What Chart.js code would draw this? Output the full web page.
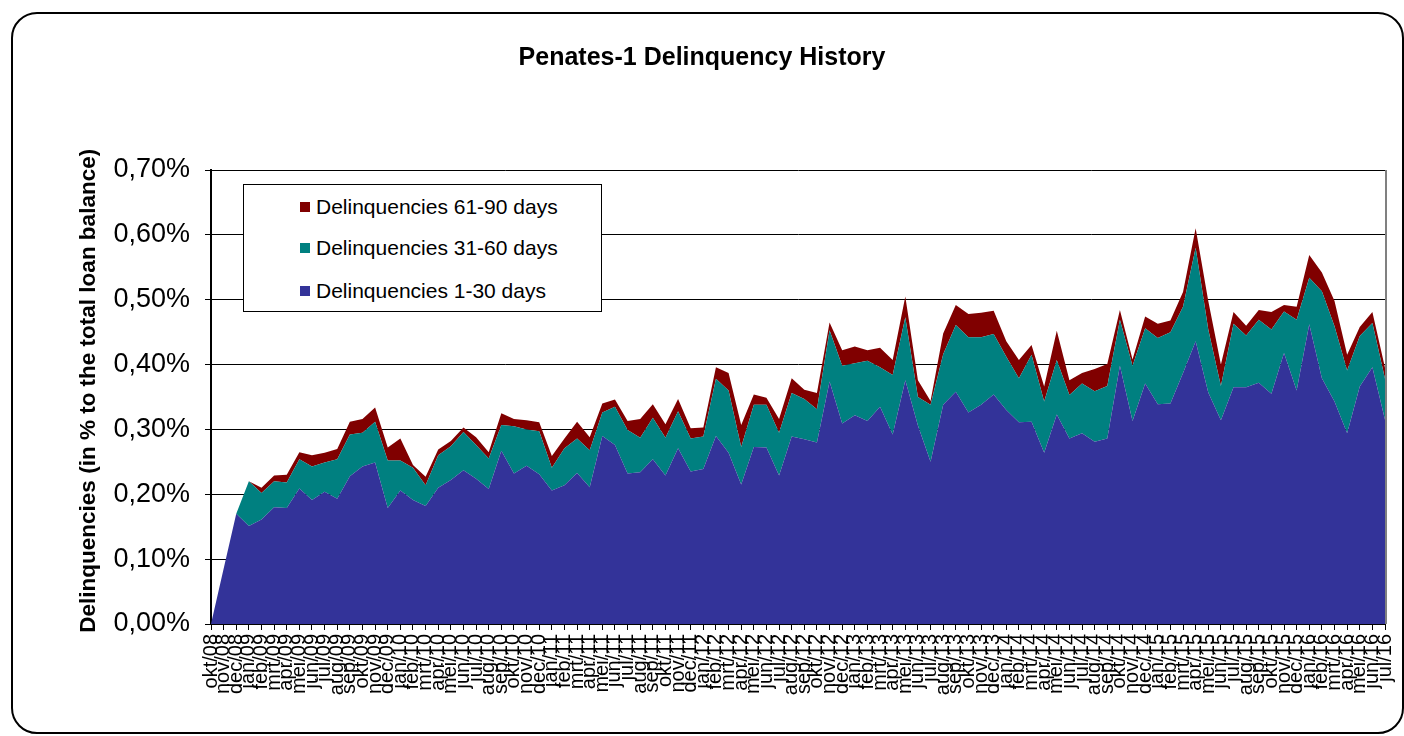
<!DOCTYPE html>
<html><head><meta charset="utf-8">
<script src="https://cdn.jsdelivr.net/npm/chart.js@4.4.0/dist/chart.umd.min.js"></script>
<style>
html,body{margin:0;padding:0;background:#fff;}
#wrap{position:relative;width:1404px;height:736px;overflow:hidden;background:#fff;}
#frame{position:absolute;left:11px;top:12px;width:1389px;height:718px;border:2px solid #000;border-radius:26px;pointer-events:none;}
canvas{position:absolute;left:0;top:0;}
#legend{position:absolute;left:243px;top:184px;width:357px;height:126px;border:1px solid #000;background:#fff;font-family:"Liberation Sans",Arial,sans-serif;font-size:21px;color:#000;}
.item{position:absolute;left:56px;height:24px;display:flex;align-items:center;white-space:nowrap;}
.sw{width:10px;height:10px;margin-right:6px;flex:none;}
</style></head>
<body>
<div id="wrap">
<canvas id="c" width="1404" height="736"></canvas>
<div id="legend"></div>
<div id="frame"></div>
</div>
<script>
const months = ["okt/08","nov/08","dec/08",
"jan/09","feb/09","mrt/09","apr/09","mei/09","jun/09","jul/09","aug/09","sep/09","okt/09","nov/09","dec/09",
"jan/10","feb/10","mrt/10","apr/10","mei/10","jun/10","jul/10","aug/10","sep/10","okt/10","nov/10","dec/10",
"jan/11","feb/11","mrt/11","apr/11","mei/11","jun/11","jul/11","aug/11","sep/11","okt/11","nov/11","dec/11",
"jan/12","feb/12","mrt/12","apr/12","mei/12","jun/12","jul/12","aug/12","sep/12","okt/12","nov/12","dec/12",
"jan/13","feb/13","mrt/13","apr/13","mei/13","jun/13","jul/13","aug/13","sep/13","okt/13","nov/13","dec/13",
"jan/14","feb/14","mrt/14","apr/14","mei/14","jun/14","jul/14","aug/14","sep/14","okt/14","nov/14","dec/14",
"jan/15","feb/15","mrt/15","apr/15","mei/15","jun/15","jul/15","aug/15","sep/15","okt/15","nov/15","dec/15",
"jan/16","feb/16","mrt/16","apr/16","mei/16","jun/16","jul/16"];

// values in % of total loan balance
const d1_30 = [0,0.085,0.170,0.151,0.161,0.180,0.179,0.209,0.191,0.204,
0.193,0.228,0.243,0.249,0.179,0.206,0.191,0.182,0.210,0.222,
0.237,0.224,0.208,0.267,0.232,0.244,0.231,0.206,0.214,0.233,
0.211,0.290,0.276,0.232,0.234,0.254,0.229,0.271,0.235,0.239,
0.290,0.264,0.215,0.273,0.272,0.229,0.289,0.285,0.280,0.374,
0.309,0.322,0.313,0.335,0.292,0.376,0.306,0.250,0.338,0.358,
0.326,0.338,0.354,0.330,0.311,0.312,0.264,0.323,0.286,0.294,
0.281,0.286,0.398,0.313,0.371,0.339,0.340,0.387,0.436,0.357,
0.314,0.365,0.365,0.372,0.355,0.418,0.360,0.462,0.379,0.343,
0.294,0.366,0.396,0.315];

const d31_60 = [0,0,0,0.069,0.041,0.040,0.039,0.045,0.052,0.045,
0.061,0.064,0.052,0.063,0.073,0.046,0.050,0.032,0.050,0.052,
0.059,0.052,0.047,0.040,0.073,0.056,0.066,0.035,0.057,0.053,
0.057,0.036,0.059,0.067,0.053,0.064,0.058,0.057,0.051,0.050,
0.088,0.096,0.058,0.065,0.066,0.066,0.067,0.062,0.051,0.079,
0.089,0.080,0.093,0.061,0.092,0.097,0.044,0.088,0.078,0.103,
0.116,0.104,0.093,0.082,0.068,0.103,0.079,0.084,0.067,0.077,
0.078,0.081,0.071,0.085,0.085,0.102,0.110,0.102,0.144,0.097,
0.053,0.098,0.080,0.097,0.099,0.064,0.109,0.072,0.134,0.116,
0.097,0.078,0.068,0.063];

const d61_90 = [0,0,0,0,0.008,0.009,0.012,0.011,0.017,0.015,
0.016,0.020,0.021,0.022,0.020,0.034,0.004,0.013,0.009,0.008,
0.007,0.012,0.010,0.018,0.011,0.014,0.014,0.018,0.015,0.026,
0.020,0.014,0.011,0.014,0.029,0.021,0.021,0.019,0.016,0.014,
0.018,0.027,0.034,0.016,0.011,0.021,0.023,0.014,0.025,0.012,
0.024,0.026,0.016,0.030,0.023,0.032,0.026,0.006,0.032,0.031,
0.036,0.038,0.036,0.024,0.028,0.015,0.023,0.045,0.023,0.016,
0.034,0.034,0.015,0.010,0.018,0.022,0.018,0.023,0.030,0.044,
0.033,0.018,0.015,0.015,0.027,0.010,0.020,0.035,0.029,0.039,
0.024,0.014,0.017,0.017];

const seriesNames = ["Delinquencies 1-30 days","Delinquencies 31-60 days","Delinquencies 61-90 days"];
const seriesColors = ["#333399","#008080","#800000"];
const yTicks = [0,0.1,0.2,0.3,0.4,0.5,0.6,0.7];

const FONT = '"Liberation Sans", Arial, sans-serif';

const plotBorder = {
  id:'plotBorder',
  afterDatasetsDraw(chart){
    const {ctx, chartArea:a} = chart;
    ctx.save();
    ctx.strokeStyle = '#808080';
    ctx.lineWidth = 2;
    ctx.beginPath();
    ctx.moveTo(a.right+1, a.top);
    ctx.lineTo(a.right+1, a.bottom);
    ctx.stroke();
    ctx.restore();
  }
};

const seriesData = [d1_30, d31_60, d61_90];
const datasets = seriesData.map((d,i)=>({
  label: seriesNames[i],
  data: d,
  backgroundColor: seriesColors[i],
  borderColor: seriesColors[i],
  borderWidth: 0,
  pointRadius: 0,
  tension: 0,
  fill: i===0 ? 'origin' : '-1'
}));

new Chart(document.getElementById('c'), {
  type:'line',
  data:{labels:months, datasets},
  options:{
    responsive:false,
    animation:false,
    layout:{padding:{left:0,right:0,top:0,bottom:0}},
    plugins:{
      legend:{display:false},
      tooltip:{enabled:false},
      title:{display:true,text:'Penates-1 Delinquency History',color:'#000',
        font:{family:FONT,size:25,weight:'bold'},padding:{top:43,bottom:97}}
    },
    scales:{
      x:{
        offset:false,
        afterFit(s){s.height=112; s.paddingRight=19; s.paddingLeft=0;},
        ticks:{autoSkip:false,minRotation:90,maxRotation:90,color:'#000',font:{family:FONT,size:20},padding:4},
        grid:{drawOnChartArea:false,drawTicks:true,tickLength:6,color:'#000'},
        border:{color:'#000',width:1}
      },
      y:{
        stacked:true,
        min:0,max:0.7,
        afterFit(s){s.width=211;},
        afterBuildTicks(s){s.ticks = yTicks.map(v=>({value:v}));},
        ticks:{color:'#000',font:{family:FONT,size:27},padding:15,
          callback:v=>v.toFixed(2).replace('.',',')+'%'},
        grid:{color:'#000',lineWidth:1,tickLength:6,drawTicks:true},
        border:{color:'#000',width:2},
        title:{display:true,text:'  Delinquencies (in % to the total loan balance)',color:'#000',
          font:{family:FONT,size:22.5,weight:'bold'},padding:{top:75,bottom:0}}
      }
    }
  },
  plugins:[plotBorder]
});

// legend (reverse order, as in the reference)
const lg = document.getElementById('legend');
const rowsTop = [10,51,94];
[2,1,0].forEach((si,k)=>{
  const it = document.createElement('div');
  it.className='item';
  it.style.top = rowsTop[k]+'px';
  it.innerHTML = '<span class="sw" style="background:'+seriesColors[si]+'"></span><span>'+seriesNames[si]+'</span>';
  lg.appendChild(it);
});
</script>
</body></html>
